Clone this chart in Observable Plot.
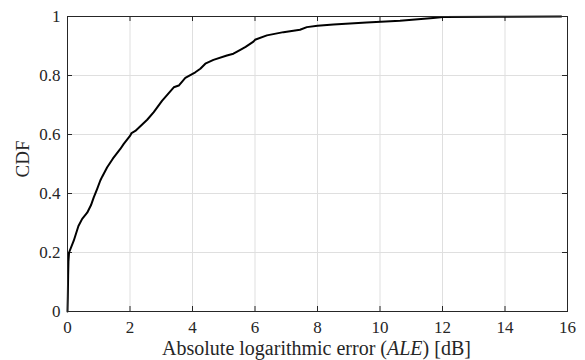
<!DOCTYPE html>
<html>
<head>
<meta charset="utf-8">
<script src="https://cdn.jsdelivr.net/npm/d3@7"></script>
<script src="https://cdn.jsdelivr.net/npm/@observablehq/plot@0.6"></script>
<style>
  html, body { margin: 0; padding: 0; background: #fff; }
  #chart svg { display: block; }
  #chart svg, #chart svg text { font-family: "Liberation Serif", "Times New Roman", serif !important; }
</style>
</head>
<body>
<div id="chart"></div>
<script>
const aleDb = [0, 0.01, 0.02, 0.03, 0.05, 0.2, 0.35, 0.47, 0.63, 0.75, 0.84, 0.95, 1.05, 1.11, 1.27, 1.45, 1.69, 1.8, 2.0, 2.05, 2.17, 2.55, 2.76, 3.03, 3.08, 3.4, 3.56, 3.77, 4.09, 4.25, 4.41, 4.67, 5.1, 5.31, 5.53, 5.7, 5.95, 6.0, 6.38, 6.91, 7.44, 7.66, 8.0, 8.51, 9.57, 10.64, 11.7, 12.02, 13.8, 15.8];
const cdf = [0, 0.05, 0.12, 0.17, 0.2, 0.24, 0.29, 0.314, 0.335, 0.36, 0.387, 0.416, 0.444, 0.457, 0.489, 0.518, 0.551, 0.568, 0.595, 0.605, 0.612, 0.65, 0.676, 0.715, 0.721, 0.76, 0.766, 0.792, 0.811, 0.823, 0.84, 0.853, 0.868, 0.874, 0.887, 0.897, 0.915, 0.921, 0.936, 0.947, 0.955, 0.964, 0.969, 0.973, 0.98, 0.986, 0.995, 0.998, 0.999, 1.0];
const xTicks = [0, 2, 4, 6, 8, 10, 12, 14, 16];
const yTicks = [0, 0.2, 0.4, 0.6, 0.8, 1];

const data = aleDb.map((x, i) => ({x, y: cdf[i]}));
const axisColor = "#262626";
const serif = "'Liberation Serif', 'Times New Roman', serif";
const W = 585, H = 360;
const mL = 67, mR = 18, mT = 16, mB = 49;
const innerH = H - mT - mB, innerW = W - mL - mR;
const tickLen = 5;

const chart = Plot.plot({
  width: W,
  height: H,
  marginLeft: mL,
  marginRight: mR,
  marginTop: mT,
  marginBottom: mB,
  style: {fontFamily: serif, fontSize: "17px", color: axisColor, background: "#fff"},
  x: {domain: [0, 16]},
  y: {domain: [0, 1]},
  marks: [
    Plot.gridX(xTicks, {stroke: "#dfdfdf", strokeOpacity: 1, strokeWidth: 1}),
    Plot.gridY(yTicks, {stroke: "#dfdfdf", strokeOpacity: 1, strokeWidth: 1}),
    Plot.tickX(xTicks, {x: d => d, stroke: axisColor, insetTop: innerH - tickLen}),
    Plot.tickX(xTicks, {x: d => d, stroke: axisColor, insetBottom: innerH - tickLen}),
    Plot.tickY(yTicks, {y: d => d, stroke: axisColor, insetRight: innerW - tickLen}),
    Plot.tickY(yTicks, {y: d => d, stroke: axisColor, insetLeft: innerW - tickLen}),
    Plot.axisX(xTicks, {tickSize: 0, tickPadding: 9, label: null, fontSize: 17, tickFormat: d => String(d)}),
    Plot.axisY(yTicks, {tickSize: 0, tickPadding: 7, label: null, fontSize: 17, tickFormat: d => String(d)}),
    Plot.line(data, {x: "x", y: "y", stroke: "#000", strokeWidth: 2, strokeLinejoin: "round"}),
    Plot.frame({stroke: axisColor, strokeWidth: 1})
  ]
});

const svg = d3.select(chart);
const xl = svg.append("text")
  .attr("x", 316.5)
  .attr("y", 355)
  .attr("text-anchor", "middle")
  .attr("fill", axisColor)
  .style("font-family", serif)
  .style("font-size", "20px");
xl.append("tspan").text("Absolute logarithmic error (");
xl.append("tspan").attr("font-style", "italic").text("ALE");
xl.append("tspan").text(") [dB]");

svg.append("text")
  .attr("transform", `translate(29,159) rotate(-90)`)
  .attr("text-anchor", "middle")
  .attr("fill", axisColor)
  .style("font-family", serif)
  .style("font-size", "19px")
  .text("CDF");

document.getElementById("chart").appendChild(chart);
</script>
</body>
</html>
